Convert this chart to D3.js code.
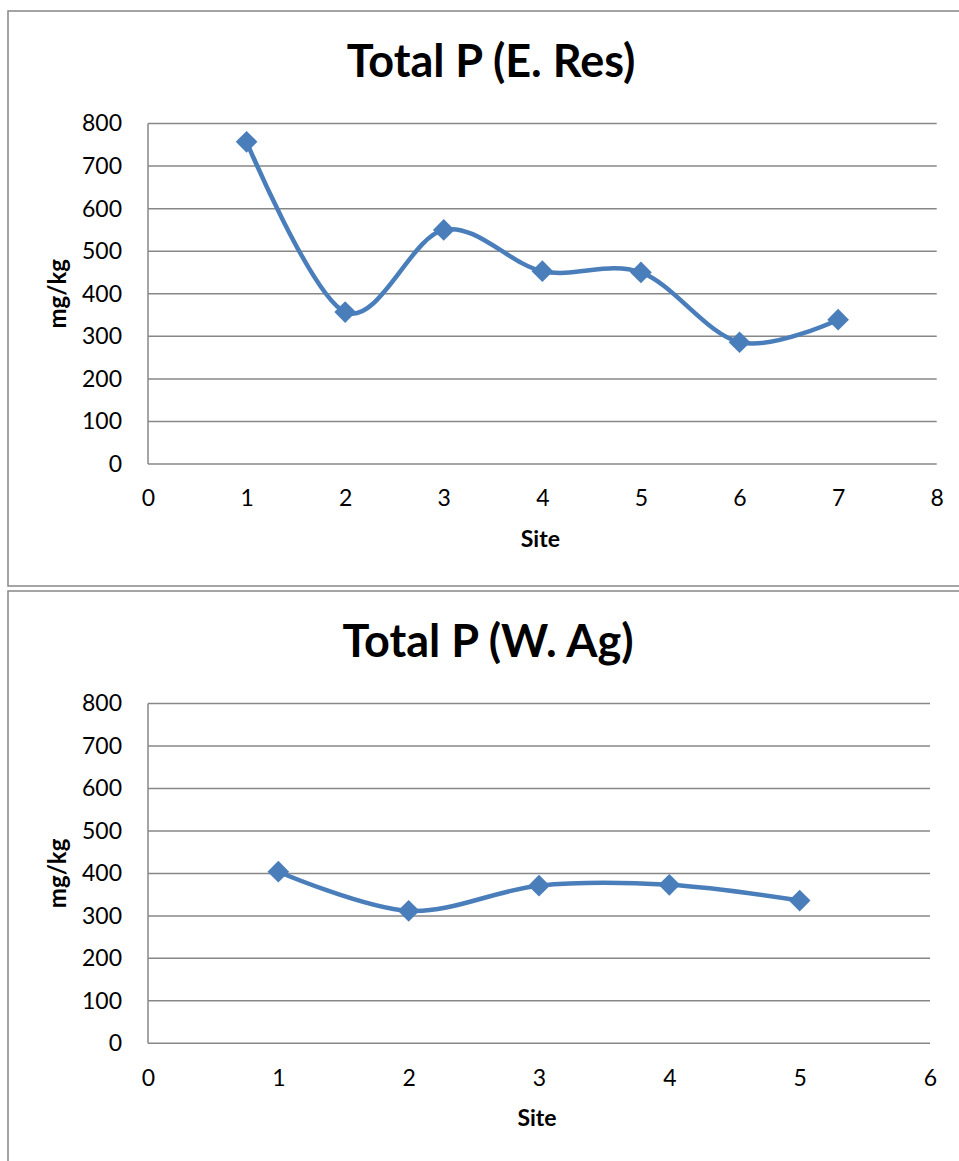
<!DOCTYPE html>
<html><head><meta charset="utf-8">
<script src="https://cdn.jsdelivr.net/npm/d3@7"></script>
<style>
html,body{margin:0;padding:0;background:#fff;overflow:hidden}
text{font-family:Lato,"Open Sans",sans-serif}
</style></head>
<body><svg id="c" width="959" height="1161"></svg>
<script>
// ---- data ----
const titles = ["Total P (E. Res)", "Total P (W. Ag)"];
const sitesRes = [1, 2, 3, 4, 5, 6, 7];
const valuesRes = [757, 357, 550, 453, 450, 286, 339];
const sitesAg = [1, 2, 3, 4, 5];
const valuesAg = [404, 312, 371, 373, 336];
const yTicks = [0, 100, 200, 300, 400, 500, 600, 700, 800];
const xTicksRes = [0, 1, 2, 3, 4, 5, 6, 7, 8];
const xTicksAg = [0, 1, 2, 3, 4, 5, 6];
const yLabel = "mg/kg";
const xLabel = "Site";

const svg = d3.select("#c");
const panels = [
  {title: titles[0], sites: sitesRes, vals: valuesRes, xt: xTicksRes,
   box: [8, 11, 960, 575], plot: [148, 123.5, 936.7, 464], titleY: 77, titleX: 491},
  {title: titles[1], sites: sitesAg, vals: valuesAg, xt: xTicksAg,
   box: [8, 591, 960, 580], plot: [148, 703.5, 930, 1043.3], titleY: 657, titleX: 488}
];
const grid = "#878787", blue = "#4A7EBB";

panels.forEach(p => {
  const g = svg.append("g");
  g.append("rect").attr("x", p.box[0]).attr("y", p.box[1]).attr("width", p.box[2]).attr("height", p.box[3])
    .attr("fill", "#fff").attr("stroke", grid).attr("stroke-width", 1.5);
  const [x0, y0, x1, y1] = p.plot;
  const x = d3.scaleLinear().domain([p.xt[0], p.xt[p.xt.length - 1]]).range([x0, x1]);
  const y = d3.scaleLinear().domain([0, 800]).range([y1, y0]);

  // gridlines
  g.append("g").selectAll("line").data(yTicks).join("line")
    .attr("x1", x0).attr("x2", x1).attr("y1", d => y(d)).attr("y2", d => y(d))
    .attr("stroke", grid).attr("stroke-width", 1.5);
  // y axis line
  g.append("line").attr("x1", x0).attr("x2", x0).attr("y1", y0).attr("y2", y1)
    .attr("stroke", grid).attr("stroke-width", 1.5);

  // y tick labels
  const ya = d3.axisLeft(y).tickValues(yTicks).tickFormat(d3.format("d")).tickSize(0).tickPadding(26);
  const yg = g.append("g").attr("transform", `translate(${x0},0)`).call(ya);
  yg.select(".domain").remove();
  yg.selectAll("text").attr("font-size", 23).attr("fill", "#000").attr("font-family", "Lato");

  const xa = d3.axisBottom(x).tickValues(p.xt).tickFormat(d3.format("d")).tickSize(0).tickPadding(26);
  const xg = g.append("g").attr("transform", `translate(0,${y1})`).call(xa);
  xg.select(".domain").remove();
  xg.selectAll("text").attr("font-size", 23).attr("fill", "#000").attr("font-family", "Lato");

  // titles
  g.append("text").attr("x", p.titleX).attr("y", p.titleY).attr("text-anchor", "middle")
    .attr("font-size", 45).attr("font-weight", "bold").text(p.title);
  g.append("text").attr("x", (x0 + x1) / 2 - 2).attr("y", y1 + 83).attr("text-anchor", "middle")
    .attr("font-size", 23).attr("font-weight", "bold").text(xLabel);
  g.append("text").attr("transform", `translate(66,${(y0 + y1) / 2}) rotate(-90)`)
    .attr("text-anchor", "middle").attr("font-size", 24).attr("font-weight", "bold").text(yLabel);

  // line
  const pts = p.sites.map((s, i) => [s, p.vals[i]]);
  const line = d3.line().x(d => x(d[0])).y(d => y(d[1])).curve(d3.curveCatmullRom.alpha(0));
  g.append("path").datum(pts).attr("d", line).attr("fill", "none")
    .attr("stroke", blue).attr("stroke-width", 4.5).attr("stroke-linejoin", "round");
  g.append("g").selectAll("path").data(pts).join("path")
    .attr("d", d3.symbol(d3.symbolDiamond2 || d3.symbolSquare, 300)())
    .attr("transform", d => `translate(${x(d[0])},${y(d[1])}) rotate(${d3.symbolDiamond2 ? 0 : 45})`)
    .attr("fill", blue);
});
</script></body></html>
